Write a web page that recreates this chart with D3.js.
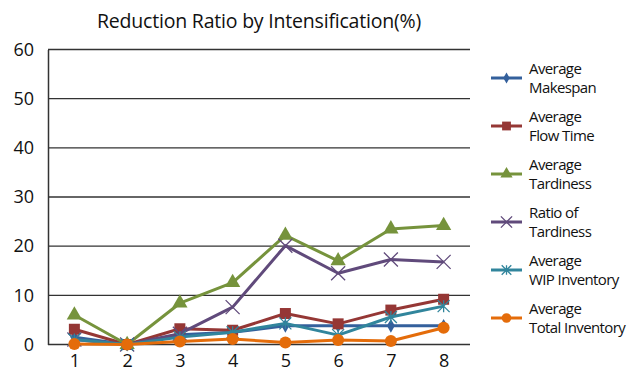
<!DOCTYPE html>
<html>
<head>
<meta charset="utf-8">
<script src="https://cdn.jsdelivr.net/npm/d3@7"></script>
<style>
  html, body { margin: 0; padding: 0; background: #fff; }
  svg { display: block; font-family: "Open Sans", "DejaVu Sans", sans-serif; }
</style>
</head>
<body>
<svg id="chart" width="634" height="382"></svg>
<script>
// Categories along the x axis
const categories = ["1", "2", "3", "4", "5", "6", "7", "8"];
const yTicks = [0, 10, 20, 30, 40, 50, 60];

// Reduction ratio (%) per measure
const makespan      = [1.5, 0, 2.0, 2.5, 3.8, 3.8, 3.8, 3.8];
const flowTime      = [3.1, 0, 3.2, 2.9, 6.3, 4.2, 7.0, 9.2];
const tardiness     = [6.0, 0, 8.4, 12.6, 22.2, 17.0, 23.5, 24.2];
const ratioTardy    = [1.0, 0, 2.2, 7.6, 20.1, 14.5, 17.3, 16.8];
const wipInventory  = [1.0, 0, 1.5, 2.5, 4.3, 1.9, 5.6, 7.8];
const totalInventory = [0.1, 0, 0.6, 1.1, 0.4, 0.9, 0.7, 3.4];

const seriesNames = [
  ["Average", "Makespan"],
  ["Average", "Flow Time"],
  ["Average", "Tardiness"],
  ["Ratio of", "Tardiness"],
  ["Average", "WIP Inventory"],
  ["Average", "Total Inventory"]
];
const seriesValues = [makespan, flowTime, tardiness, ratioTardy, wipInventory, totalInventory];
const colors = ["#34609c", "#953735", "#76933c", "#604a7b", "#31859c", "#e46c0a"];
const markers = ["diamond", "square", "triangle", "cross", "asterisk", "circle"];

const svg = d3.select("#chart");
const margin = { left: 48, right: 164, top: 49.5, bottom: 37.5 };
const W = 634, H = 382;

const x = d3.scalePoint().domain(categories).range([margin.left, W - margin.right]).padding(0.5);
const y = d3.scaleLinear().domain([0, 60]).range([H - margin.bottom, margin.top]);

// Title
svg.append("text")
  .attr("x", 259).attr("y", 28)
  .attr("text-anchor", "middle")
  .attr("font-size", 19.5)
  .attr("letter-spacing", -0.2)
  .attr("fill", "#111")
  .text("Reduction Ratio by Intensification(%)");

// Horizontal gridlines
svg.append("g")
  .selectAll("line")
  .data(yTicks)
  .join("line")
  .attr("x1", margin.left).attr("x2", W - margin.right)
  .attr("y1", d => y(d)).attr("y2", d => y(d))
  .attr("stroke", "#333").attr("stroke-width", 1.3);

// Y axis
const yAxis = svg.append("g")
  .attr("transform", `translate(${margin.left},0)`)
  .call(d3.axisLeft(y).tickValues(yTicks).tickSize(0).tickPadding(14));
yAxis.select(".domain").attr("stroke", "#333").attr("stroke-width", 1.5);
yAxis.selectAll("text").attr("font-size", 18).attr("fill", "#111").attr("font-family", "Open Sans");

// X axis
const xAxis = svg.append("g")
  .attr("transform", `translate(0,${y(0)})`)
  .call(d3.axisBottom(x).tickSize(0).tickPadding(10));
xAxis.select(".domain").remove();
xAxis.selectAll("text").attr("font-size", 18).attr("fill", "#111").attr("font-family", "Open Sans");

// Marker drawing
function drawMarker(g, type, color, size) {
  const s = size;
  switch (type) {
    case "diamond":
      g.append("path").attr("d", d3.symbol(d3.symbolDiamond, s * s * 0.55)())
        .attr("fill", color);
      break;
    case "square":
      g.append("rect").attr("x", -s / 2).attr("y", -s / 2).attr("width", s).attr("height", s)
        .attr("fill", color);
      break;
    case "triangle":
      g.append("path").attr("d", d3.symbol(d3.symbolTriangle, s * s * 0.6)())
        .attr("fill", color);
      break;
    case "cross":
      g.append("path").attr("d", `M${-s/2},${-s/2}L${s/2},${s/2}M${-s/2},${s/2}L${s/2},${-s/2}`)
        .attr("stroke", color).attr("stroke-width", 1.3).attr("fill", "none");
      break;
    case "asterisk":
      g.append("path").attr("d", `M${-s/2},${-s/2}L${s/2},${s/2}M${-s/2},${s/2}L${s/2},${-s/2}M0,${-s/2}L0,${s/2}`)
        .attr("stroke", color).attr("stroke-width", 1.3).attr("fill", "none");
      break;
    case "circle":
      g.append("circle").attr("r", s / 2).attr("fill", color);
      break;
  }
}
const markerSize = [10, 11, 13, 14, 12, 12];

const line = d3.line().x((d, i) => x(categories[i])).y(d => y(d));

// Series lines and markers
seriesValues.forEach((vals, k) => {
  const g = svg.append("g");
  g.append("path").datum(vals)
    .attr("d", line)
    .attr("fill", "none")
    .attr("stroke", colors[k])
    .attr("stroke-width", 3)
    .attr("stroke-linejoin", "round");
  vals.forEach((v, i) => {
    const m = g.append("g").attr("transform", `translate(${x(categories[i])},${y(v)})`);
    drawMarker(m, markers[k], colors[k], markerSize[k]);
  });
});

// Legend
const legend = svg.append("g");
seriesNames.forEach((name, k) => {
  const cy = 78 + k * 48;
  const g = legend.append("g");
  g.append("line")
    .attr("x1", 491).attr("x2", 522).attr("y1", cy).attr("y2", cy)
    .attr("stroke", colors[k]).attr("stroke-width", 3);
  const m = g.append("g").attr("transform", `translate(506.5,${cy})`);
  drawMarker(m, markers[k], colors[k], markerSize[k] * 0.8);
  [name[0], name[1]].forEach((t, j) => {
    g.append("text")
      .attr("x", 529).attr("y", cy - 4 + j * 19)
      .attr("font-size", 15).attr("letter-spacing", -0.6)
      .attr("fill", "#111")
      .text(t);
  });
});
</script>
</body>
</html>
